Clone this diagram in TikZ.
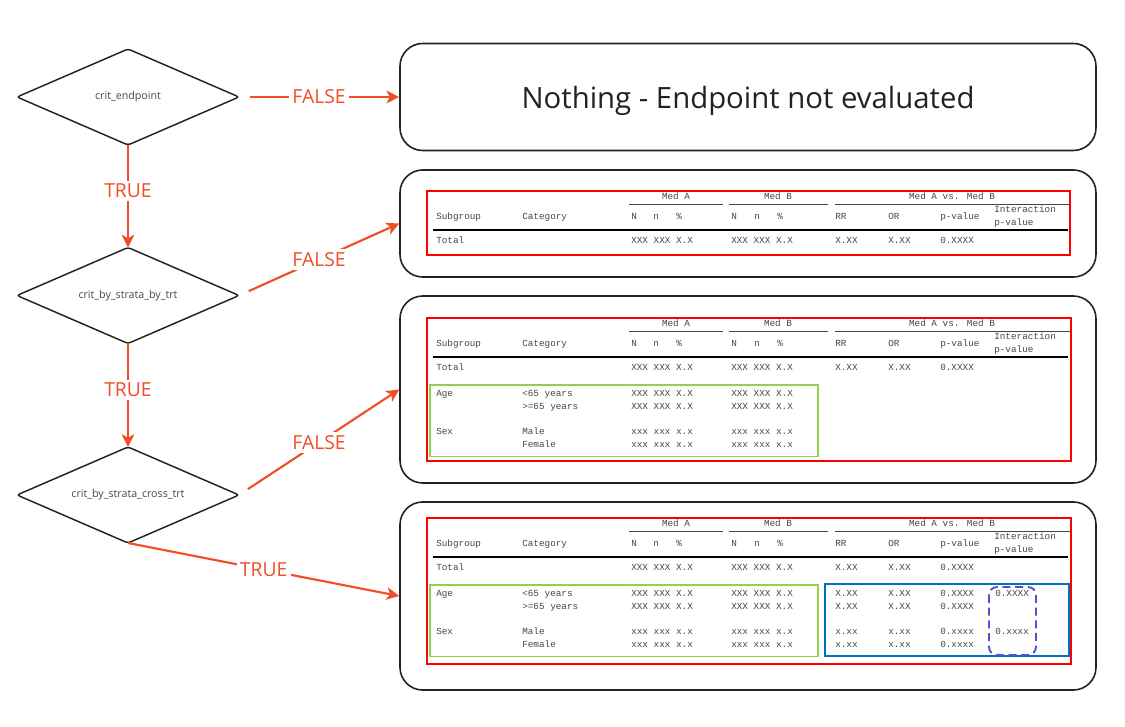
\documentclass[tikz,border=0pt]{standalone}
\usepackage{fontspec}
\setmainfont{Open Sans}
\newfontfamily\tabfont{Liberation Mono}
\definecolor{flowred}{RGB}{240,78,40}
\definecolor{tabred}{RGB}{255,0,0}
\definecolor{tabgreen}{RGB}{146,208,80}
\definecolor{tabblue}{RGB}{0,112,192}
\definecolor{dashblue}{RGB}{80,80,210}
\definecolor{boxgray}{RGB}{34,34,34}
\definecolor{txtgray}{RGB}{70,70,70}
\usetikzlibrary{arrows.meta,positioning,shapes.geometric}

\newcommand{\tabhead}[2]{%
  \foreach \cx/\ct/\cn in {676/Med A/ma, 778/Med B/mb, 952/Med A vs. Med B/vs}
    \node[cell,anchor=center] (#1-\cn) at (\cx,#2+6.5) {\ct};
  \draw[txtgray,line width=0.6pt] (629,#2+13) -- (723,#2+13) (729,#2+13) -- (828,#2+13) (835,#2+13) -- (1070,#2+13);
  \foreach \cx/\ct/\cn in {436/Subgroup/sg, 522/Category/cat, 631/N/na, 653/n/nsa, 676/\%/pa, 731/N/nb, 754/n/nsb, 777/\%/pb, 835/RR/rr, 888/OR/or, 940/p-value/pv}
    \node[cell] (#1-\cn) at (\cx,#2+26) {\ct};
  \node[cell] (#1-int) at (994,#2+19) {Interaction};
  \node[cell] (#1-ipv) at (994,#2+32) {p-value};
  \draw[black,line width=0.8pt] (433,#2+39) -- (1068,#2+39);
  \foreach \cx/\ct/\cn in {436/Total/tot, 631/XXX XXX X.X/ta, 731/XXX XXX X.X/tb, 835/X.XX/trr, 888/X.XX/tor, 940/0.XXXX/tpv}
    \node[cell] (#1-\cn) at (\cx,#2+50) {\ct};
}
\newcommand{\tabstrata}[2]{%
  \node[cell] (#1-age) at (436,#2+76.5) {Age};
  \node[cell] (#1-sex) at (436,#2+114.5) {Sex};
  \foreach \ry/\cc/\vv/\cn in {76.5/<65 years/XXX XXX X.X/r1, 89.5/>=65 years/XXX XXX X.X/r2, 114.5/Male/xxx xxx x.x/r3, 127.5/Female/xxx xxx x.x/r4} {
    \node[cell] (#1-\cn c) at (522,#2+\ry) {\cc};
    \node[cell] (#1-\cn a) at (631,#2+\ry) {\vv};
    \node[cell] (#1-\cn b) at (731,#2+\ry) {\vv};
  }
  \draw[tabgreen,line width=1pt] (430,#2+67) rectangle (818,#2+138.5);
}

\begin{document}
\begin{tikzpicture}[x=0.75pt,y=-0.75pt,
  decision/.style={diamond,aspect=2.3,draw=boxgray,line width=1.1pt,rounded corners=2pt,minimum width=166.5pt,minimum height=72pt,inner sep=0pt,outer sep=0pt,font=\fontsize{8}{9}\selectfont,text=txtgray},
  outbox/.style={rectangle,draw=boxgray,line width=1.2pt,rounded corners=17pt,minimum width=522pt,inner sep=0pt},
  flow/.style={draw=flowred,line width=1.6pt,-{Stealth[length=9.5pt,width=9.5pt,inset=2.5pt]}},
  flowlab/.style={fill=white,text=flowred,font=\fontsize{14.5}{16}\selectfont,inner sep=2.5pt},
  cell/.style={font=\tabfont\fontsize{7}{8}\selectfont,text=txtgray,inner sep=0pt,text height=5pt,text depth=1.5pt,anchor=west},
  tabframe/.style={draw=tabred,line width=1.1pt}]

\useasboundingbox (0,0) rectangle (1125,727);

\node[decision] (endp) at (128,97) {crit\_endpoint};
\node[decision] (bytrt) at (128,295.5) {crit\_by\_strata\_by\_trt};
\node[decision] (crosstrt) at (128,495) {crit\_by\_strata\_cross\_trt};

\node[outbox,minimum height=80.25pt,font=\fontsize{22}{26}\selectfont,text=boxgray,text depth=0pt] (nothing) at (748,97) {Nothing - Endpoint not evaluated};
\node[outbox,minimum height=80.25pt] (box2) at (748,223.5) {};
\node[outbox,minimum height=140.25pt] (box3) at (748,389.5) {};
\node[outbox,minimum height=141pt] (box4) at (748,596) {};

% overall table
\draw[tabframe] (427,191) rectangle (1070,255);
\tabhead{p1}{191}

% by strata, by treatment
\draw[tabframe] (427,318) rectangle (1071,461);
\tabhead{p2}{318}
\tabstrata{p2}{318}

% by strata, across treatment
\draw[tabframe] (427,518) rectangle (1071,664);
\tabhead{p3}{518}
\tabstrata{p3}{518}
\foreach \ry/\vv/\pp/\cn in {76.5/X.XX/0.XXXX/r1, 89.5/X.XX/0.XXXX/r2, 114.5/x.xx/0.xxxx/r3, 127.5/x.xx/0.xxxx/r4} {
  \node[cell] (p3-\cn rr) at (835,518+\ry) {\vv};
  \node[cell] (p3-\cn or) at (888,518+\ry) {\vv};
  \node[cell] (p3-\cn pv) at (940,518+\ry) {\pp};
}
\node[cell] (p3-iage) at (995,594.5) {0.XXXX};
\node[cell] (p3-isex) at (995,632.5) {0.xxxx};
\draw[tabblue,line width=1pt] (825,584) rectangle (1069,656);
\draw[dashblue,line width=1.4pt,dash pattern=on 6pt off 3.5pt,rounded corners=6pt] (989,587) rectangle (1036,655);

\draw[flow,shorten <=8pt] (endp.east) -- node[flowlab] {FALSE} (nothing.west);
\draw[flow] (endp.south) -- node[flowlab,pos=0.45] {TRUE} (bytrt.north);
\draw[flow,shorten <=8pt] (bytrt.east) -- node[flowlab] {FALSE} (box2.west);
\draw[flow] (bytrt.south) -- node[flowlab,pos=0.45] {TRUE} (crosstrt.north);
\draw[flow,shorten <=8pt] (crosstrt.east) -- node[flowlab] {FALSE} (box3.west);
\draw[flow] (crosstrt.south) -- node[flowlab] {TRUE} (box4.west);
\end{tikzpicture}
\end{document}
